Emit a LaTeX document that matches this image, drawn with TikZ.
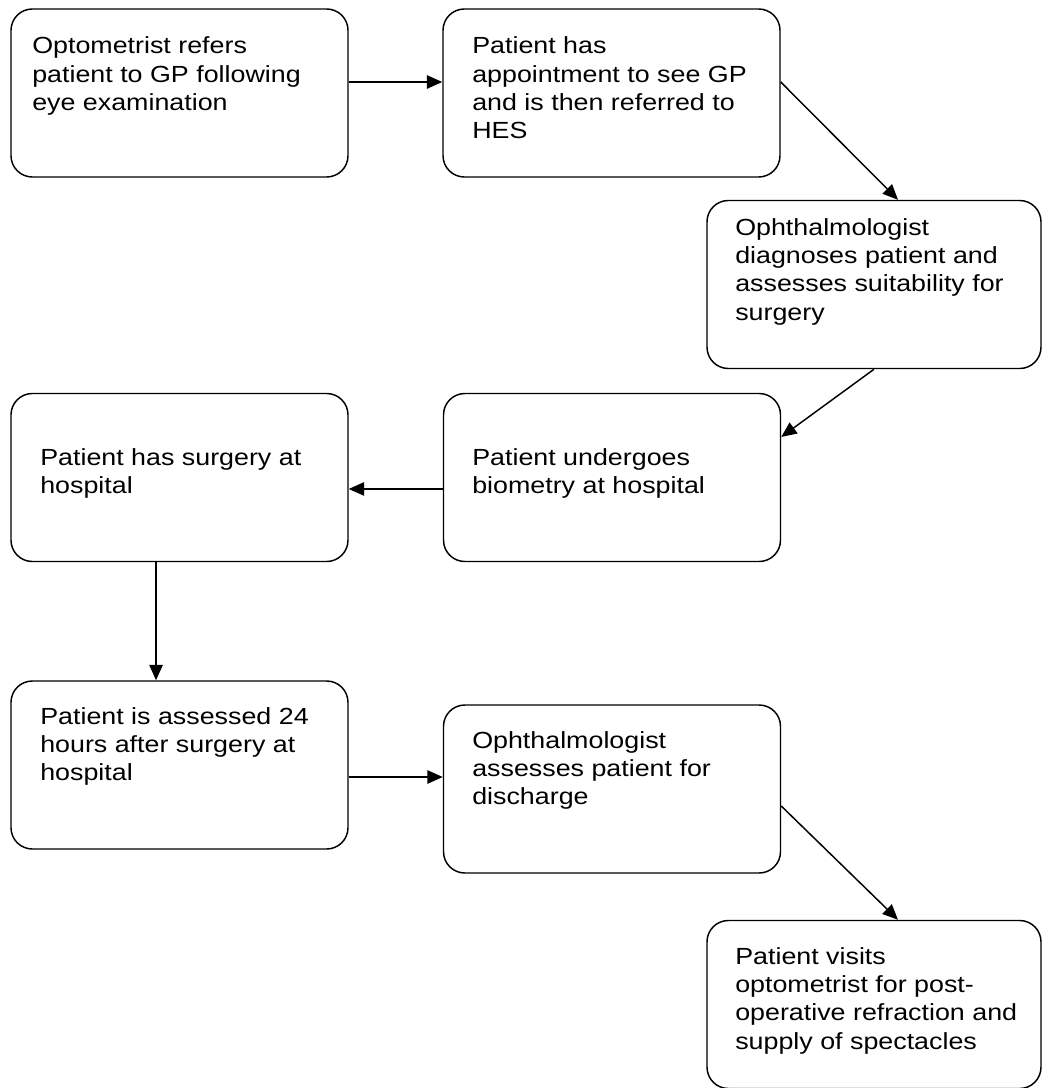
\documentclass[tikz,border=0pt]{standalone}
\usepackage{fontspec}
\setmainfont{Liberation Sans}[FakeStretch=1.15]
\usetikzlibrary{arrows.meta}
\begin{document}
\begin{tikzpicture}[x=0.75pt,y=-0.75pt,
  box/.style={draw, line width=1.1pt, rounded corners=16pt, minimum width=252.75pt, minimum height=126pt, inner sep=0pt},
  boxr/.style={box, minimum width=250.5pt},
  txt/.style={anchor=north west, inner sep=0pt, align=left, yshift=20pt,
    font=\fontsize{17.5pt}{21.2pt}\selectfont},
  arr/.style={line width=1.1pt, -{Triangle[length=11.5pt,width=10pt]}}]
\useasboundingbox (0,0) rectangle (1042,1088);
\node[box]  (b1) at (179.5,93) {};
\node[box]  (b2) at (611.5,93) {};
\node[boxr] (b3) at (874,284.5) {};
\node[box]  (b4) at (179.5,477.5) {};
\node[box]  (b5) at (612,477.5) {};
\node[box]  (b6) at (179.5,765) {};
\node[box]  (b7) at (612,789) {};
\node[boxr] (b8) at (874,1004.5) {};
\node[txt] (t1) at (32,53.5) {\rule{0pt}{20pt}Optometrist refers\\patient to GP following\\eye examination};
\node[txt] (t2) at (472,53.5) {\rule{0pt}{20pt}Patient has\\appointment to see GP\\and is then referred to\\HES};
\node[txt] (t3) at (735,235) {\rule{0pt}{20pt}Ophthalmologist\\diagnoses patient and\\assesses suitability for\\surgery};
\node[txt] (t4) at (40,465) {\rule{0pt}{20pt}Patient has surgery at\\hospital};
\node[txt] (t5) at (472,465) {\rule{0pt}{20pt}Patient undergoes\\biometry at hospital};
\node[txt] (t6) at (40,724) {\rule{0pt}{20pt}Patient is assessed 24\\hours after surgery at\\hospital};
\node[txt] (t7) at (472,748) {\rule{0pt}{20pt}Ophthalmologist\\assesses patient for\\discharge};
\node[txt] (t8) at (735,964) {\rule{0pt}{20pt}Patient visits\\optometrist for post-\\operative refraction and\\supply of spectacles};
\draw[arr] ([yshift=8.25pt]b1.east) -- ([yshift=8.25pt]b2.west);
\draw[arr] ([yshift=8.25pt]b2.east) -- ([xshift=18pt]b3.north);
\draw[arr] (b3.south) -- ([yshift=30.4pt]b5.east);
\draw[arr] ([yshift=-8.6pt]b5.west) -- ([yshift=-8.6pt]b4.east);
\draw[arr] ([xshift=-17.6pt]b4.south) -- ([xshift=-17.6pt]b6.north);
\draw[arr] ([yshift=-9pt]b6.east) -- ([yshift=9pt]b7.west);
\draw[arr] ([yshift=-12.75pt]b7.east) -- ([xshift=18pt]b8.north);
\end{tikzpicture}
\end{document}
